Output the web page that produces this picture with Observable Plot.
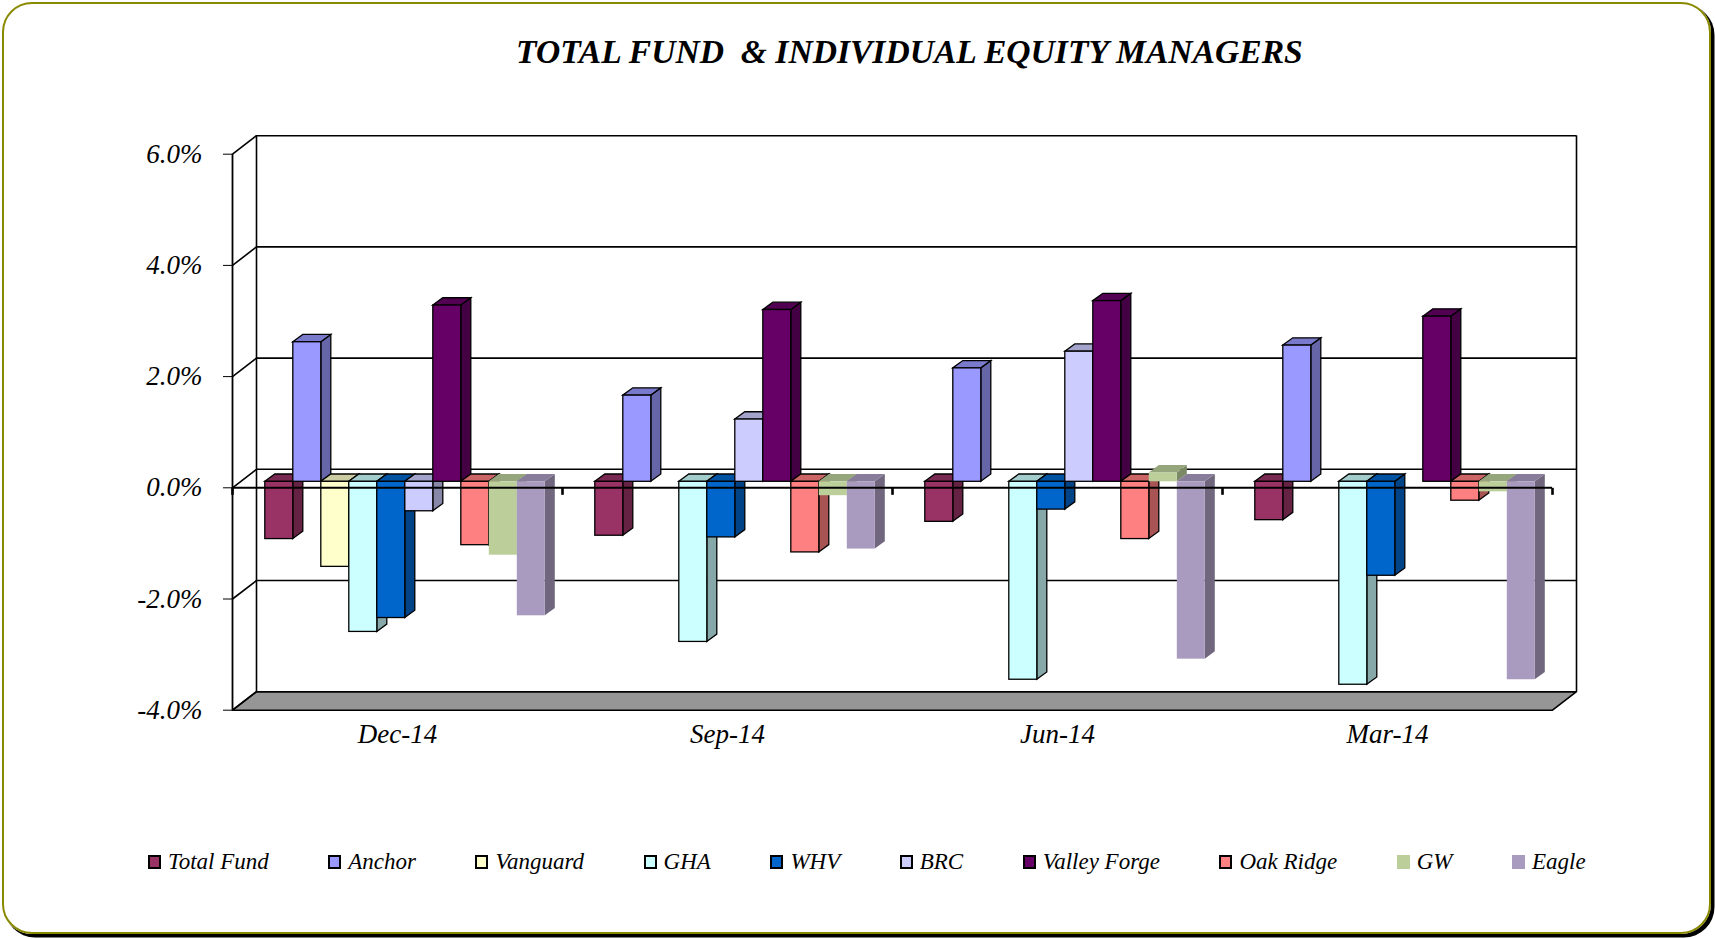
<!DOCTYPE html>
<html>
<head>
<meta charset="utf-8">
<script src="https://cdn.jsdelivr.net/npm/d3@7"></script>
<script src="https://cdn.jsdelivr.net/npm/@observablehq/plot@0.6"></script>
<style>
  html, body { margin: 0; padding: 0; background: #fff; }
  body { width: 1715px; height: 939px; position: relative; overflow: hidden; font-family: "Liberation Serif", serif; }
  #frame { position: absolute; left: 2px; top: 2px; width: 1709px; height: 932px; box-sizing: border-box;
           border: 2.5px solid #8a8a00; border-radius: 30px; box-shadow: 3px 3px 0 0.5px #000; }
  #title { position: absolute; left: 516px; top: 35px; font-size: 33.6px; line-height: 33px; font-weight: bold;
           font-style: italic; white-space: pre; color: #000; }
  #chart { position: absolute; left: 0; top: 100px; width: 1715px; height: 680px; }
  #chart svg { position: absolute; left: 0; top: 0; }
  #legend { position: absolute; left: 148px; top: 850px; display: flex; align-items: center;
            font-size: 23px; line-height: 23px; font-style: italic; white-space: pre; }
  #legend .item { display: flex; align-items: center; margin-right: 59.5px; }
  #legend .sw { width: 13px; height: 14px; box-sizing: border-box; margin-right: 7px; }
</style>
</head>
<body>
<div id="frame"></div>
<div id="title"></div>
<div id="chart"></div>
<div id="legend"></div>
<script>
// ---------------- data ----------------
const titleText = "TOTAL FUND  & INDIVIDUAL EQUITY MANAGERS";
const dates = ["Dec-14", "Sep-14", "Jun-14", "Mar-14"];
const managers = ["Total Fund", "Anchor", "Vanguard", "GHA", "WHV", "BRC", "Valley Forge", "Oak Ridge", "GW", "Eagle"];
const totalFund   = [-1.03, -0.97, -0.72, -0.69];
const anchor      = [ 2.51,  1.55,  2.04,  2.45];
const vanguard    = [-1.53,  null,  null,  null];
const gha         = [-2.70, -2.88, -3.56, -3.65];
const whv         = [-2.45, -1.00, -0.50, -1.69];
const brc         = [-0.53,  1.12,  2.34,  null];
const valleyForge = [ 3.17,  3.09,  3.25,  2.97];
const oakRidge    = [-1.14, -1.27, -1.03, -0.34];
const gw          = [-1.32, -0.25,  0.16, -0.18];
const eagle       = [-2.41, -1.21, -3.19, -3.56];
const yTicks = [-4, -2, 0, 2, 4, 6];
const colors = ["#993366", "#9999FF", "#FFFFCC", "#CCFFFF", "#0066CC", "#CCCCFF", "#660066", "#FF8080", "#BCCF9B", "#A99BBF"];
const outlined = ["Total Fund", "Anchor", "Vanguard", "GHA", "WHV", "BRC", "Valley Forge", "Oak Ridge"];

const series = [totalFund, anchor, vanguard, gha, whv, brc, valleyForge, oakRidge, gw, eagle];
const rows = [];
dates.forEach((d, di) => managers.forEach((m, mi) => rows.push({date: d, manager: m, value: series[mi][di]})));

// ---------------- layout ----------------
const W = 1715, H = 680;
const M = {top: 53.7, right: 163, bottom: 70.3, left: 232};
const yDomain = [-4, 6];
const WALL_DX = 24, WALL_DY = 18.5;     // depth of the chart box (px)
const BAR_DX = 7.8, BAR_DY = 6;         // where the bar front faces sit in depth (px)
const FACE_DX = 10, FACE_DY = 7.3;      // depth of each bar (px)
const kx = (W - M.left - M.right) / dates.length;
const ky = (H - M.top - M.bottom) / (yDomain[1] - yDomain[0]);
const ddx = WALL_DX / kx, ddy = WALL_DY / ky;
const nCat = dates.length;

document.getElementById("title").textContent = titleText;

const common = {
  width: W, height: H,
  marginTop: M.top, marginRight: M.right, marginBottom: M.bottom, marginLeft: M.left,
};
const fontStyle = {background: "transparent", fontFamily: "'Liberation Serif', serif", fontSize: "27px", fontStyle: "italic", color: "#000", overflow: "visible"};

// ---- background: walls, floor, axes ----
const floorPts = [
  {x: 0, y: yDomain[0]}, {x: nCat, y: yDomain[0]},
  {x: nCat + ddx, y: yDomain[0] + ddy}, {x: ddx, y: yDomain[0] + ddy}, {x: 0, y: yDomain[0]}
];
const plotA = Plot.plot({
  ...common,
  style: fontStyle,
  x: {domain: [0, nCat], axis: null},
  y: {domain: yDomain, ticks: yTicks, tickFormat: d => d.toFixed(1) + "%", tickSize: 9, tickPadding: 21, label: null},
  marks: [
    Plot.line(floorPts, {x: "x", y: "y", fill: "#969696", stroke: "#000", strokeWidth: 1.6}),
    Plot.ruleY(yTicks, {x1: ddx, x2: nCat + ddx, y: t => t + ddy, stroke: "#000", strokeWidth: 1.6}),
    Plot.ruleX([ddx, nCat + ddx], {x: d => d, y1: yDomain[0] + ddy, y2: yDomain[1] + ddy, stroke: "#000", strokeWidth: 1.6}),
    Plot.link(yTicks, {x1: 0, y1: t => t, x2: ddx, y2: t => t + ddy, stroke: "#000", strokeWidth: 1.6}),
    Plot.ruleX([0], {x: d => d, y1: yDomain[0], y2: yDomain[1], stroke: "#000", strokeWidth: 1.8}),
    Plot.text(dates, {x: (d, i) => i + 0.5, y: yDomain[0], text: d => d, dy: 24, fontSize: 27, fontStyle: "italic", fill: "#000"})
  ]
});

// ---- bars (faceted by quarter) ----
const plotB = Plot.plot({
  ...common,
  style: fontStyle,
  facet: {data: rows, x: "date"},
  fx: {domain: dates, padding: 0, axis: null},
  x: {domain: managers, paddingInner: 0, paddingOuter: 0.75, axis: null},
  y: {domain: yDomain, axis: null},
  color: {domain: managers, range: colors},
  marks: [
    Plot.barY(rows, {filter: d => outlined.includes(d.manager) && d.value != null, x: "manager", y: "value", fill: "manager",
      stroke: "#000", strokeWidth: 1.3, dx: BAR_DX, dy: -BAR_DY}),
    Plot.barY(rows, {filter: d => !outlined.includes(d.manager) && d.value != null, x: "manager", y: "value", fill: "manager",
      dx: BAR_DX, dy: -BAR_DY})
  ]
});

// ---- front category axis (zero line + ticks) ----
const plotC = Plot.plot({
  ...common,
  style: fontStyle,
  x: {domain: [0, nCat], axis: null},
  y: {domain: yDomain, axis: null},
  marks: [
    Plot.ruleY([0], {x1: 0, x2: nCat, y: d => d, stroke: "#000", strokeWidth: 2}),
    Plot.link(d3.range(nCat + 1), {x1: d => d, x2: d => d, y1: 0, y2: -7 / ky, stroke: "#000", strokeWidth: 2.6})
  ]
});

const chart = document.getElementById("chart");
chart.append(plotA, plotB, plotC);

// 3D faces (top + side) for each bar rendered by Plot
const ns = "http://www.w3.org/2000/svg";
const shade = (c, k) => { const r = d3.rgb(c); return d3.rgb(r.r * k, r.g * k, r.b * k).formatHex(); };
plotB.querySelectorAll('g[aria-label="bar"]').forEach(g => {
  g.querySelectorAll("rect").forEach(r => {
    const x = +r.getAttribute("x"), y = +r.getAttribute("y");
    const w = +r.getAttribute("width"), h = +r.getAttribute("height");
    const fill = r.getAttribute("fill");
    const side = document.createElementNS(ns, "polygon");
    side.setAttribute("points", [[x + w, y], [x + w + FACE_DX, y - FACE_DY], [x + w + FACE_DX, y + h - FACE_DY], [x + w, y + h]].join(" "));
    side.setAttribute("fill", shade(fill, 0.66));
    const top = document.createElementNS(ns, "polygon");
    top.setAttribute("points", [[x, y], [x + FACE_DX, y - FACE_DY], [x + w + FACE_DX, y - FACE_DY], [x + w, y]].join(" "));
    top.setAttribute("fill", shade(fill, 0.8));
    r.parentNode.insertBefore(side, r);
    r.parentNode.insertBefore(top, r);
  });
});

// ---- legend ----
const legend = d3.select("#legend");
managers.forEach((m, i) => {
  const item = legend.append("div").attr("class", "item");
  item.append("div").attr("class", "sw")
    .style("background", colors[i])
    .style("border", outlined.includes(m) ? "2px solid #000" : "none");
  item.append("span").text(m);
});
</script>
</body>
</html>
